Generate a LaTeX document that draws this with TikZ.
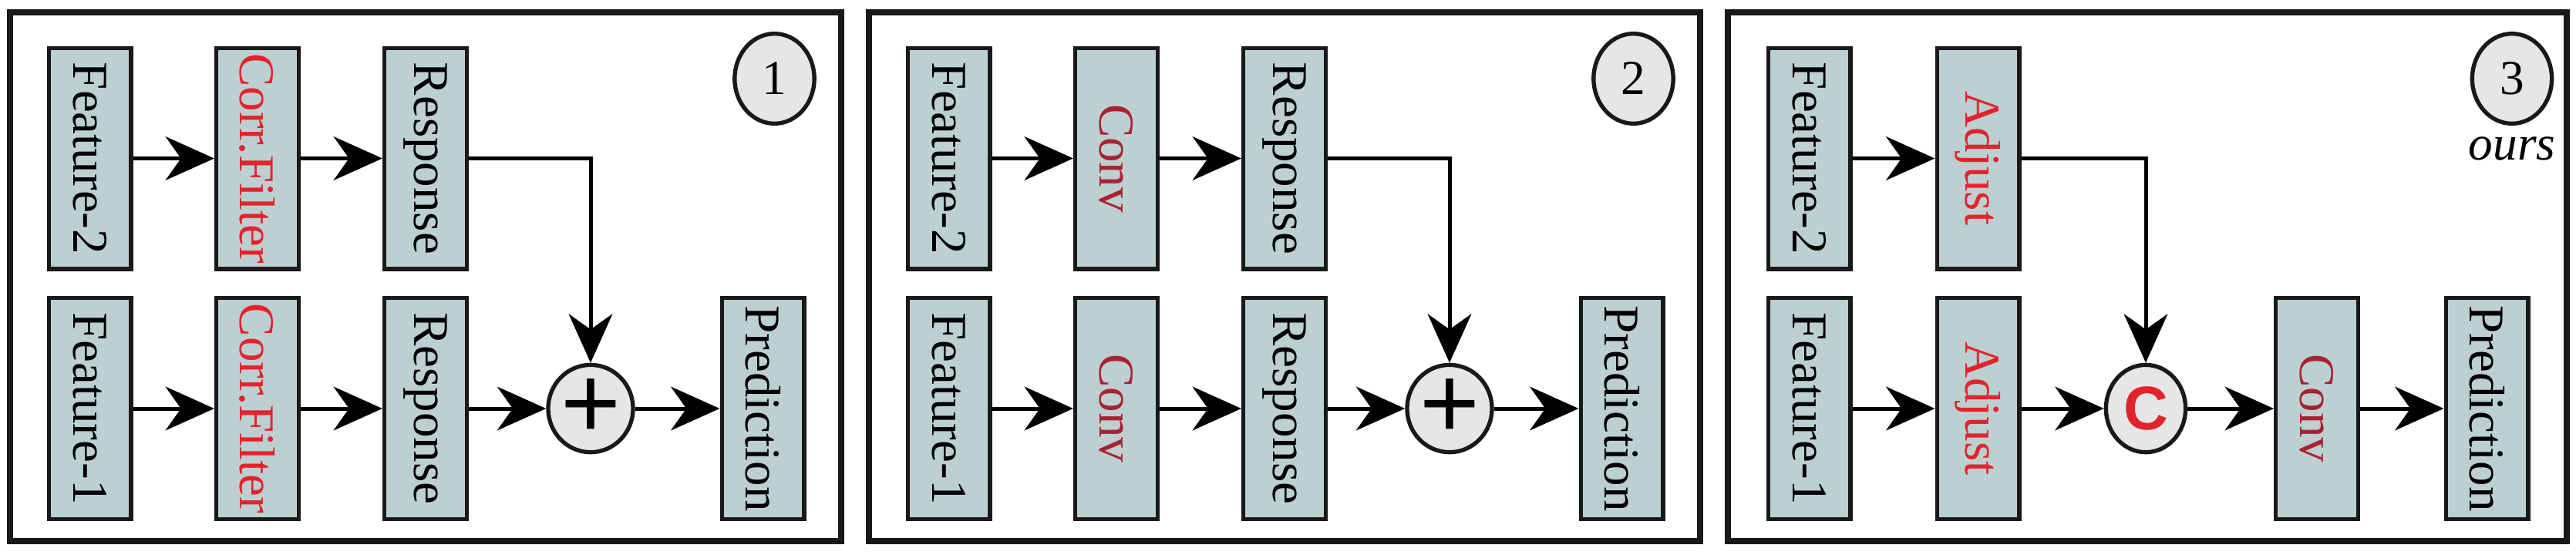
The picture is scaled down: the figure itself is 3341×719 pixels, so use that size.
\documentclass[tikz,border=0pt]{standalone}
\usepackage{fontspec}
\setmainfont{Liberation Serif}
\newfontfamily\sansbf{Liberation Sans}
\usetikzlibrary{arrows.meta, positioning, shapes.geometric}
\definecolor{boxfill}{HTML}{BCCFD1}
\definecolor{redtxt}{HTML}{E3232B}
\definecolor{convtxt}{HTML}{A82232}
\definecolor{circfill}{HTML}{E6E6E6}

\begin{document}
\begin{tikzpicture} [
    x=0.3pt, y=-0.3pt,
    block/.style={draw=black!90, fill=boxfill, line width=1.6pt, rotate=-90,
      minimum width=86pt, minimum height=32pt, inner sep=0pt,
      font=\fontsize{19.5}{22}\selectfont},
    redblock/.style={block, text=redtxt},
    convblock/.style={block, text=convtxt},
    op/.style={draw=black!90, fill=circfill, shape=ellipse, line width=1.6pt,
      minimum width=31pt, minimum height=34pt, inner sep=0pt},
    tag/.style={op, minimum width=31pt, minimum height=35pt,
      font=\fontsize{19}{22}\selectfont},
    frame/.style={draw=black!90, line width=2.2pt},
    every edge/.style={draw, line width=1.5pt,
      -{Stealth[length=19pt, width=17pt, inset=6pt]}},
    link/.style={draw, line width=1.5pt,
      -{Stealth[length=19pt, width=17pt, inset=6pt]}}
  ]
  \useasboundingbox (0,0) rectangle (3341,719);

  % PANEL 1
  \node (P1) [frame, minimum width=323.4pt, minimum height=205.8pt] at (552,359) {};
  \node (F2a) [block] at (116.5,205.5) {Feature-2};
  \node (CF2) [redblock] at (334,205.5) {Corr.Filter};
  \node (R2a) [block] at (552,205.5) {Response};
  \node (F1a) [block] at (116.5,530) {Feature-1};
  \node (CF1) [redblock] at (334,530) {Corr.Filter};
  \node (R1a) [block] at (552,530) {Response};
  \node (SUMa) [op, font=\sansbf\fontsize{40}{40}\selectfont] at (766,530) {+};
  \node (PRa) [block] at (989.5,530) {Prediction};
  \node (T1) [tag] at (1004.5,102) {1};

  % PANEL 2
  \node (P2) [frame, minimum width=323.4pt, minimum height=205.8pt] at (1666,359) {};
  \node (F2b) [block] at (1230.5,205.5) {Feature-2};
  \node (CV2) [convblock] at (1448,205.5) {Conv};
  \node (R2b) [block] at (1666,205.5) {Response};
  \node (F1b) [block] at (1230.5,530) {Feature-1};
  \node (CV1) [convblock] at (1448,530) {Conv};
  \node (R1b) [block] at (1666,530) {Response};
  \node (SUMb) [op, font=\sansbf\fontsize{40}{40}\selectfont] at (1880,530) {+};
  \node (PRb) [block] at (2103.5,530) {Prediction};
  \node (T2) [tag] at (2118.5,102) {2};

  % PANEL 3
  \node (P3) [frame, minimum width=326.4pt, minimum height=205.8pt] at (2785,359) {};
  \node (F2c) [block] at (2346.5,205.5) {Feature-2};
  \node (AD2) [redblock] at (2565.5,205.5) {Adjust};
  \node (F1c) [block] at (2346.5,530) {Feature-1};
  \node (AD1) [redblock] at (2565.5,530) {Adjust};
  \node (CAT) [op, text=redtxt, font=\sansbf\bfseries\fontsize{24}{24}\selectfont] at (2783,530) {C};
  \node (CVc) [convblock] at (3005,530) {Conv};
  \node (PRc) [block] at (3225.5,530) {Prediction};
  \node (T3) [tag] at (3258,102) {3};
  \node (OURS) [below=1pt of T3, font=\itshape\fontsize{19}{22}\selectfont] {ours};

  % Edges
  \path (F2a) edge (CF2);
  \path (CF2) edge (R2a);
  \path (F1a) edge (CF1);
  \path (CF1) edge (R1a);
  \path (R1a) edge (SUMa);
  \path (SUMa) edge (PRa);
  \draw [link] (R2a) -| (SUMa);

  \path (F2b) edge (CV2);
  \path (CV2) edge (R2b);
  \path (F1b) edge (CV1);
  \path (CV1) edge (R1b);
  \path (R1b) edge (SUMb);
  \path (SUMb) edge (PRb);
  \draw [link] (R2b) -| (SUMb);

  \path (F2c) edge (AD2);
  \path (F1c) edge (AD1);
  \path (AD1) edge (CAT);
  \path (CAT) edge (CVc);
  \path (CVc) edge (PRc);
  \draw [link] (AD2) -| (CAT);

\end{tikzpicture}
\end{document}
